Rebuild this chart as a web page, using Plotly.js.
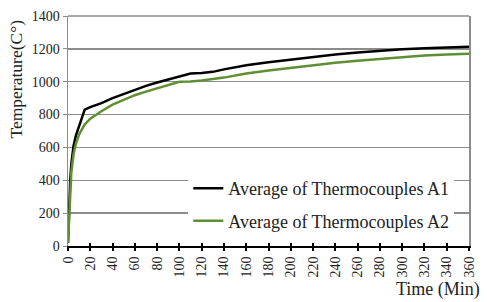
<!DOCTYPE html>
<html>
<head>
<meta charset="utf-8">
<script src="https://cdn.plot.ly/plotly-3.0.1.min.js"></script>
<style>
  html, body { margin: 0; padding: 0; background: #fff; }
  #graph-container { width: 487px; height: 302px; }
</style>
</head>
<body>
<div id="graph-container"></div>
<script>
// Average thermocouple readings
var timeA1 = [0, 1, 2, 3, 5, 7, 10, 13, 15, 20, 30, 40, 50, 60, 70, 80, 90, 100, 110, 120, 130, 140, 160, 180, 200, 220, 240, 260, 280, 300, 320, 340, 360];
var tempA1 = [20, 250, 400, 500, 610, 670, 730, 790, 830, 845, 870, 900, 925, 950, 975, 995, 1012, 1030, 1050, 1053, 1060, 1075, 1100, 1118, 1135, 1150, 1165, 1178, 1188, 1197, 1203, 1208, 1213];

var timeA2 = [0, 1, 2, 3, 5, 7, 10, 13, 15, 20, 25, 30, 40, 50, 60, 70, 80, 90, 100, 110, 120, 140, 160, 180, 200, 220, 240, 260, 280, 300, 320, 340, 360];
var tempA2 = [20, 200, 350, 450, 560, 620, 680, 720, 740, 775, 800, 820, 860, 890, 918, 940, 960, 980, 1000, 1002, 1008, 1025, 1050, 1068, 1085, 1100, 1115, 1128, 1140, 1150, 1160, 1165, 1170];

var xTicks = [0, 20, 40, 60, 80, 100, 120, 140, 160, 180, 200, 220, 240, 260, 280, 300, 320, 340, 360];

var serif = 'Liberation Serif';

var data = [
    {
        x: timeA1, y: tempA1, mode: 'lines', type: 'scatter',
        name: 'Average of Thermocouples A1', legendgroup: 'a1',
        line: { color: '#000000', width: 2.5 }
    },
    {
        x: timeA2, y: tempA2, mode: 'lines', type: 'scatter',
        name: 'Average of Thermocouples A2', legendgroup: 'a2',
        line: { color: '#5f8f32', width: 2.5 }
    },
    // dummy trace so the inner half of the crossing x ticks is drawn
    { x: [0], y: [0], xaxis: 'x2', mode: 'markers', marker: { opacity: 0 }, showlegend: false, hoverinfo: 'skip' }
];

var layout = {
    width: 487,
    height: 302,
    margin: { l: 68, r: 18, t: 16, b: 56 },
    paper_bgcolor: '#fff',
    plot_bgcolor: '#fff',
    font: { family: serif, color: '#222', size: 13.5 },
    showlegend: true,
    legend: {
        x: 0.30, y: 0.03, xanchor: 'left', yanchor: 'bottom',
        bgcolor: '#fff', borderwidth: 0,
        font: { family: serif, size: 18, color: '#222' },
        traceorder: 'grouped', tracegroupgap: 6
    },
    xaxis: {
        range: [0, 360],
        tickvals: xTicks,
        ticktext: xTicks.map(String),
        tickangle: -90,
        ticks: 'outside', ticklen: 3, tickwidth: 2, tickcolor: '#000',
        showline: true, linecolor: '#000', linewidth: 2,
        showgrid: false, zeroline: false,
        tickfont: { family: serif, size: 14, color: '#222' }
    },
    xaxis2: {
        overlaying: 'x', range: [0, 360], tickvals: xTicks,
        ticks: 'inside', ticklen: 3, tickwidth: 2, tickcolor: '#000',
        showticklabels: false, showgrid: false, zeroline: false, showline: false,
        anchor: 'y', side: 'bottom'
    },
    yaxis: {
        range: [0, 1400],
        dtick: 200,
        ticks: 'outside', ticklen: 4, tickcolor: '#8c8c8c',
        showgrid: true, gridcolor: '#8c8c8c', gridwidth: 1.5,
        showline: true, linecolor: '#8c8c8c', linewidth: 1.5, mirror: true,
        zeroline: false,
        tickfont: { family: serif, size: 14, color: '#222' }
    },
    shapes: [
        { type: 'line', xref: 'paper', yref: 'paper', x0: 0, x1: 1, y0: 1, y1: 1, line: { color: '#8c8c8c', width: 1.5 } }
    ],
    annotations: [
        {
            text: 'Temperature(C°)', textangle: -90, showarrow: false,
            xref: 'paper', yref: 'paper', x: -0.13, y: 0.995, xanchor: 'center', yanchor: 'top',
            font: { family: serif, size: 17.5, color: '#222' }
        },
        {
            text: 'Time (Min)', showarrow: false,
            xref: 'paper', yref: 'paper', x: 1.032, y: -0.19, xanchor: 'right', yanchor: 'middle',
            font: { family: serif, size: 18, color: '#222' }
        }
    ]
};

Plotly.newPlot('graph-container', data, layout, { displayModeBar: false, staticPlot: true });
</script>
</body>
</html>
